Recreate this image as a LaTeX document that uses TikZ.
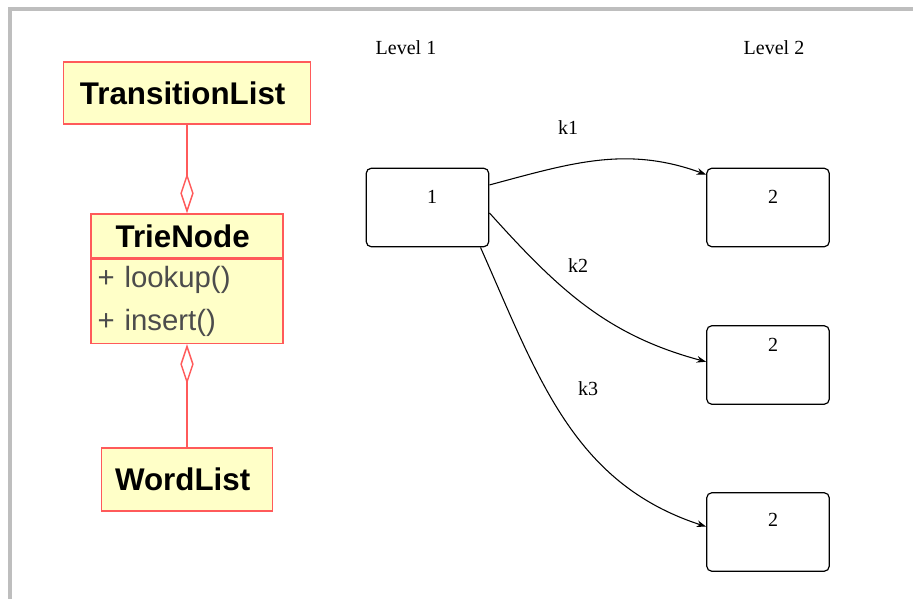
\documentclass[tikz,border=0pt]{standalone}
\usepackage{fontspec}
\setmainfont{Liberation Serif}
\newfontfamily\umlfont{Liberation Sans}
\usetikzlibrary{positioning,arrows.meta}
\definecolor{umlfill}{RGB}{255,255,200}
\definecolor{umlline}{RGB}{255,90,90}
\definecolor{framegray}{RGB}{190,190,190}

\begin{document}
\begin{tikzpicture}[x=0.75pt,y=-0.75pt,
		umlbox/.style={shape=rectangle, draw=umlline, fill=umlfill, line width=1.1pt, inner sep=0pt, align=center, font=\umlfont\fontsize{23.5}{26}\selectfont\bfseries},
		umlops/.style={umlbox, align=left, inner xsep=5pt, text width=134pt, minimum height=63pt, text=black!70, font=\umlfont\fontsize{22}{32}\selectfont},
		agg/.style={draw=umlline, line width=1.1pt, {Diamond[open, length=30pt, width=10pt]}-},
		statebox/.style={shape=rectangle, rounded corners=4pt, draw, line width=0.9pt, minimum width=92pt, minimum height=59pt},
		lbl/.style={font=\fontsize{15}{18}\selectfont},
		trans/.style={line width=0.8pt, -{Stealth[length=7pt, width=5pt]}}]
			\useasboundingbox (0,0) rectangle (913,599);
			\draw[framegray, line width=3pt] (10,599) -- (10,9) -- (913,9);
			
			% classes
			\node (tl)[umlbox, minimum width=185pt, minimum height=46.5pt] 
			at (187,93){
				TransitionList
			}; 
			
			\node (tn)[umlbox, minimum width=144pt, minimum height=33pt] 
			at (187,236){
				TrieNode
			}; 
			
			\node (ops)[umlops, below=0pt of tn]{
				+ lookup() \\ + insert()
			}; 
			
			\node (wl)[umlbox, minimum width=128pt, minimum height=47pt] 
			at (187,479.5){
				WordList
			}; 
			
			\draw[agg] (tn.north) -- (tl.south);
			\draw[agg] (ops.south) -- (wl.north);
			
			% trie levels
			\node (lv1)[lbl] at (406,48) {Level 1};
			\node (lv2)[lbl] at (774,48) {Level 2};
			
			\node (s1)[statebox] at (427.5,207.5) {};
			\node (s2a)[statebox] at (768,207.5) {};
			\node (s2b)[statebox] at (768,365) {};
			\node (s2c)[statebox] at (768,532) {};
			
			\node (n1)[lbl] at (432,197) {1};
			\node (n2a)[lbl] at (773,197) {2};
			\node (n2b)[lbl] at (773,345) {2};
			\node (n2c)[lbl] at (773,520) {2};
			
			\node (k1)[lbl] at (568,128) {k1};
			\node (k2)[lbl] at (578,266) {k2};
			\node (k3)[lbl] at (588,389) {k3};
			
			\draw[trans] (s1.20) to[out=15, in=160] (s2a.152);
			\draw[trans] (s1.-5) to[out=-48, in=165] (s2b.177);
			\draw[trans] (s1.-37) to[out=-66, in=162] (s2c.175);
		\end{tikzpicture}
\end{document}
